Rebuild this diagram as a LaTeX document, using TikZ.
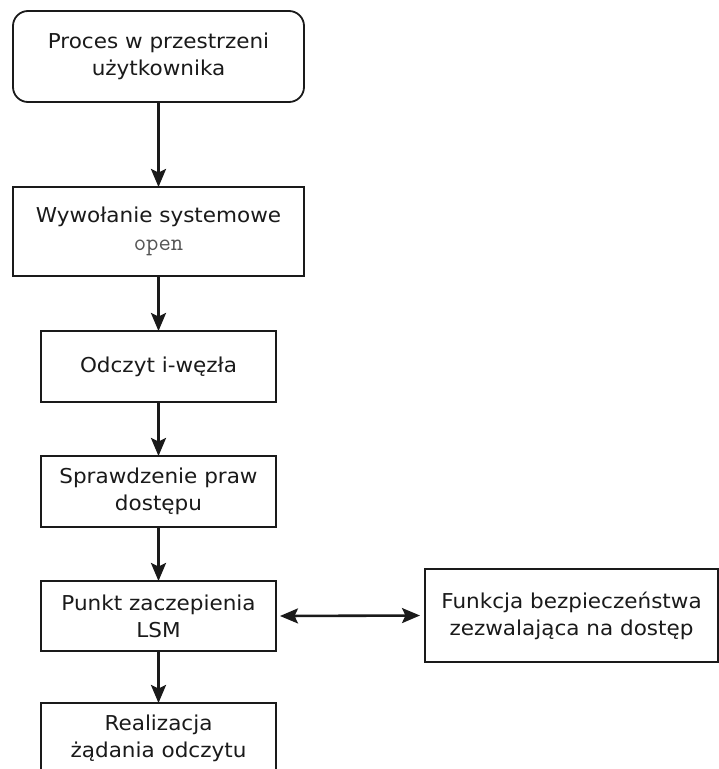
\documentclass[tikz,border=0pt]{standalone}
\usepackage{fontspec}
\setmainfont[FakeStretch=1.05]{DejaVu Sans}
\usetikzlibrary{arrows.meta}
\definecolor{ink}{HTML}{1A1A1A}
\definecolor{codegrey}{HTML}{555555}
\tikzset{
  stepbox/.style={draw=ink, line width=1.8pt, fill=white, align=center,
    inner sep=0pt, outer sep=0pt, text=ink,
    font=\fontsize{20.5}{27}\selectfont},
  flow/.style={draw=ink, line width=2.6pt, -{Stealth[length=18pt,width=15pt,inset=3.5pt]}},
  bothways/.style={draw=ink, line width=2.6pt,
    {Stealth[length=18pt,width=15pt,inset=3.5pt]}-{Stealth[length=18pt,width=15pt,inset=3.5pt]}},
}
\begin{document}
\begin{tikzpicture}[x=1pt,y=-1pt]
  \useasboundingbox (0,0) rectangle (719,769);
  \clip (0,0) rectangle (719,769);
  \fill[white] (0,0) rectangle (719,769);

  \node[stepbox, rounded corners=15pt, minimum width=291pt, minimum height=91pt]
    (proc) at (158.5,56.5) {Proces w przestrzeni\\użytkownika};
  \node[stepbox, minimum width=291pt, minimum height=89pt]
    (sys) at (158.5,231.5) {Wywołanie systemowe\\[1pt]{\fontsize{24}{27}\ttfamily\color{codegrey}open}};
  \node[stepbox, minimum width=235pt, minimum height=71pt]
    (inode) at (158.5,366.5) {Odczyt i-węzła};
  \node[stepbox, minimum width=235pt, minimum height=71pt]
    (perm) at (158.5,491.5) {Sprawdzenie praw\\dostępu};
  \node[stepbox, minimum width=235pt, minimum height=70pt]
    (hook) at (158.5,616) {Punkt zaczepienia\\LSM};
  \node[stepbox, minimum width=235pt, minimum height=71pt]
    (read) at (158.5,738.5) {Realizacja\\żądania odczytu};
  \node[stepbox, minimum width=293pt, minimum height=93pt]
    (sec) at (571.5,615.5) {Funkcja bezpieczeństwa\\zezwalająca na dostęp};

  \draw[flow] (proc) -- (sys);
  \draw[flow] (sys) -- (inode);
  \draw[flow] (inode) -- (perm);
  \draw[flow] (perm) -- (hook);
  \draw[flow] (hook) -- (read);
  \draw[bothways] ([xshift=4pt]hook.east) -- ([xshift=-5pt]sec.west);
\end{tikzpicture}
\end{document}
